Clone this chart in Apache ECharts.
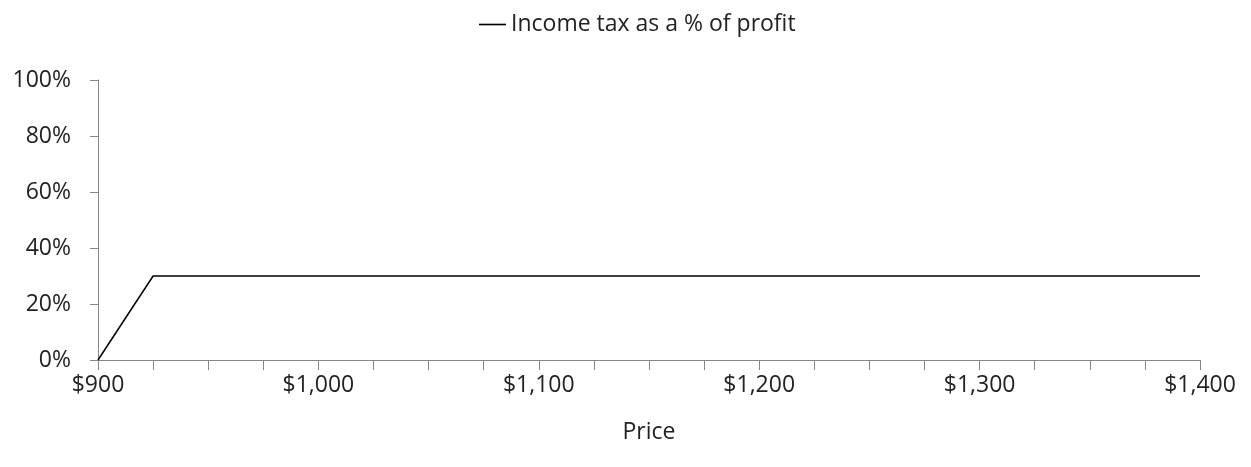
<!DOCTYPE html>
<html>
<head>
<meta charset="utf-8">
<script src="https://cdn.jsdelivr.net/npm/echarts@6/dist/echarts.min.js"></script>
<style>html,body{margin:0;padding:0;background:#fff}#c{width:1251px;height:467px}</style>
</head>
<body>
<div id="c"></div>
<script>
const prices = [900,925,950,975,1000,1025,1050,1075,1100,1125,1150,1175,1200,1225,1250,1275,1300,1325,1350,1375,1400];
const taxPct = [0,30,30,30,30,30,30,30,30,30,30,30,30,30,30,30,30,30,30,30,30];
const seriesName = 'Income tax as a % of profit';
const yTicks = [0,20,40,60,80,100];

const chart = echarts.init(document.getElementById('c'));
const font = '"Open Sans", sans-serif';
chart.setOption({
  animation: false,
  textStyle: {fontFamily: font},
  legend: {
    data: [{name: seriesName, icon: 'path://M0,0 L1,0 L1,0.06 L0,0.06 Z'}],
    top: 8, left: 474,
    itemWidth: 27, itemHeight: 14, itemGap: 0,
    textStyle: {fontFamily: font, fontSize: 23, color: '#222', padding: [0,0,0,0]}
  },
  grid: {left: 98, right: 51, top: 80, bottom: 107},
  xAxis: {
    type: 'category',
    data: prices,
    boundaryGap: false,
    name: 'Price',
    nameLocation: 'middle',
    nameGap: 61,
    nameTextStyle: {fontFamily: font, fontSize: 23, color: '#222'},
    axisLine: {lineStyle: {color: '#868686', width: 1}},
    axisTick: {show: true, interval: 0, length: 10, lineStyle: {color: '#868686'}},
    axisLabel: {
      interval: 3, margin: 14, fontSize: 23, color: '#222', fontFamily: font,
      formatter: v => '$' + Number(v).toLocaleString('en-US')
    },
    splitLine: {show: false}
  },
  yAxis: {
    type: 'value',
    min: 0, max: 100, interval: 20,
    axisLine: {show: true, lineStyle: {color: '#868686', width: 1}},
    axisTick: {show: true, inside: false, length: 8, lineStyle: {color: '#868686'}},
    axisLabel: {margin: 27, fontSize: 23, color: '#222', fontFamily: font, formatter: v => v + '%'},
    splitLine: {show: false}
  },
  series: [{
    name: seriesName,
    type: 'line',
    data: taxPct,
    symbol: 'none',
    lineStyle: {color: '#000', width: 1.5},
    itemStyle: {color: '#000'}
  }]
});
</script>
</body>
</html>
